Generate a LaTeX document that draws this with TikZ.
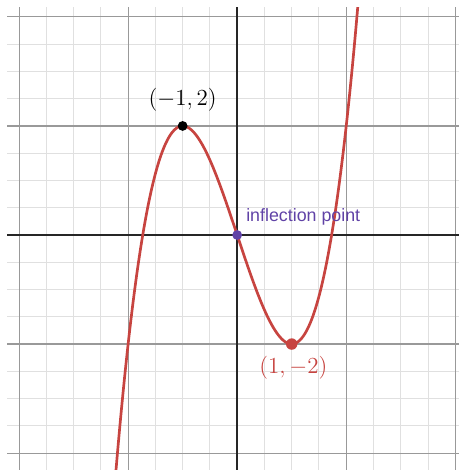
\documentclass[tikz,border=0pt]{standalone}
\usepackage{fontspec}
\newfontfamily\labelfont{Liberation Sans}
\definecolor{curvered}{HTML}{C74440}
\definecolor{inflpurple}{HTML}{6042A6}
\tikzset{
  minorgrid/.style={draw=black!12, line width=0.5pt},
  majorgrid/.style={draw=black!40, line width=0.6pt},
  axisline/.style={draw=black!85, line width=1pt},
  dotmark/.style={circle, inner sep=0pt, minimum size=0.18cm},
}
\begin{document}
\begin{tikzpicture}
\useasboundingbox (-4.35,-4.31) rectangle (4.07,4.31);

% grid and axes
\draw[minorgrid, step=0.5] (-4.22,-4.31) grid (4.07,4.18);
\draw[majorgrid, step=2] (-4.22,-4.31) grid (4.07,4.18);
\draw[axisline] (-4.22,0) -- (4.07,0);
\draw[axisline] (0,-4.31) -- (0,4.18);

% y = x^3 - 3x
\begin{scope}
\clip (-4.22,-4.31) rectangle (4.07,4.18);
\draw[curvered, line width=1.4pt, domain=-2.3:2.3, samples=150, smooth]
  plot (\x, {\x*\x*\x-3*\x});
\end{scope}

\node[dotmark, fill=black] (maxpt) at (-1,2) {};
\node[dotmark, fill=inflpurple] (inflpt) at (0,0) {};
\node[dotmark, fill=curvered, minimum size=0.21cm] (minpt) at (1,-2) {};

\node (maxlabel) at (-1,2.48) {\large$(-1,2)$};
\node[text=curvered] (minlabel) at (1.03,-2.44) {\large$(1,-2)$};
\node[text=inflpurple, anchor=base west, inner sep=0pt] (infllabel) at (0.16,0.24)
  {\labelfont\fontsize{9.3}{11}\selectfont inflection point};
\end{tikzpicture}
\end{document}
